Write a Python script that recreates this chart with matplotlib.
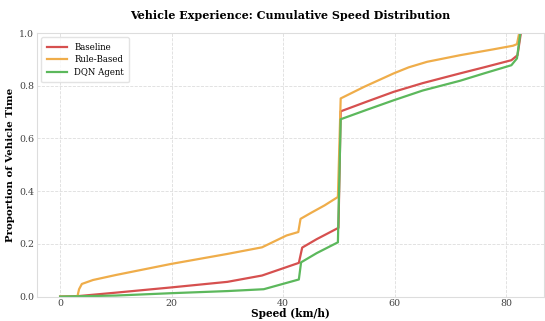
import matplotlib.pyplot as plt

# CDF curves of speed weighted by vehicle time, one per controller
baseline_speed = [0, 3.3, 10, 20, 30, 36.2, 40.6, 42.8, 43.4, 46, 49.9, 50.3, 55, 59.8, 65, 71.7, 76, 80.9, 82.0, 82.6]
baseline_prop = [0, 0.002, 0.015, 0.035, 0.056, 0.080, 0.112, 0.128, 0.186, 0.218, 0.261, 0.703, 0.740, 0.777, 0.810, 0.847, 0.870, 0.897, 0.916, 1.0]

rule_speed = [0, 3.1, 3.4, 3.9, 5.9, 10, 19.9, 30, 36.2, 40.6, 42.7, 43.1, 45, 47.4, 49.8, 50.3,
              54.5, 59.8, 62.5, 65.8, 71.7, 77.6, 81.2, 81.9, 82.3]
rule_prop = [0, 0, 0.028, 0.048, 0.063, 0.082, 0.124, 0.162, 0.187, 0.232, 0.245, 0.295, 0.318, 0.346, 0.378, 0.752,
             0.796, 0.847, 0.870, 0.891, 0.916, 0.938, 0.952, 0.958, 1.0]

dqn_speed = [0, 10, 20, 30, 36.5, 42.8, 43.2, 46, 49.8, 50.3, 55, 59.8, 65, 71.7, 76, 80.9, 81.9, 82.5]
dqn_prop = [0, 0.004, 0.013, 0.021, 0.028, 0.065, 0.130, 0.165, 0.206, 0.673, 0.709, 0.745, 0.782, 0.819, 0.847, 0.878, 0.904, 1.0]

series = [
    ("Baseline", baseline_speed, baseline_prop, "#d6504f"),
    ("Rule-Based", rule_speed, rule_prop, "#efad4a"),
    ("DQN Agent", dqn_speed, dqn_prop, "#5cb85c"),
]

plt.rcParams["font.family"] = "DejaVu Serif"
fig, ax = plt.subplots(figsize=(5.45, 3.21), dpi=100)
fig.subplots_adjust(left=0.068, right=0.998, top=0.897, bottom=0.076)

for name, xs, ys, col in series:
    ax.plot(xs, ys, color=col, linewidth=1.6, label=name)

ax.set_ylim(0, 1.0)
ax.set_xticks([0, 20, 40, 60, 80])
ax.set_yticks([0, 0.2, 0.4, 0.6, 0.8, 1.0])
ax.tick_params(labelsize=6.8, colors="#444444", length=0, pad=2)
ax.grid(True, linestyle="--", linewidth=0.6, color="#dddddd")
ax.set_axisbelow(True)
for sp in ax.spines.values():
    sp.set_color("#dddddd")

ax.set_xlabel("Speed (km/h)", fontsize=7.6, fontweight="bold", labelpad=0)
ax.set_ylabel("Proportion of Vehicle Time", fontsize=7.4, fontweight="bold", labelpad=3)
ax.set_title("Vehicle Experience: Cumulative Speed Distribution",
             fontsize=8, fontweight="bold", pad=10)

leg = ax.legend(loc="upper left", fontsize=6.2, frameon=True, fancybox=True,
                handlelength=2.4, borderpad=0.6, labelspacing=0.45)
leg.get_frame().set_edgecolor("#dddddd")

fig.savefig("out.png", dpi=100)
